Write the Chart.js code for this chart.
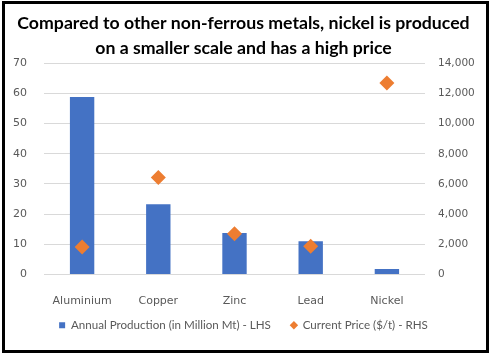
<!DOCTYPE html>
<html><head><meta charset="utf-8">
<script src="https://cdn.jsdelivr.net/npm/chart.js@4"></script>
<style>html,body{margin:0;padding:0;background:#fff}#wrap{width:491px;height:355px;position:relative}</style>
</head><body><div id="wrap"><canvas id="c" width="491" height="355"></canvas></div>
<script>
const categories = ["Aluminium", "Copper", "Zinc", "Lead", "Nickel"];
const production = [58.8, 23.3, 13.7, 11.0, 1.8];
const price = [1810, 6420, 2700, 1860, 12700];
const titleLines = ["Compared to other non-ferrous metals, nickel is produced", "on a smaller scale and has a high price"];
const seriesNames = ["Annual Production (in Million Mt) - LHS", "Current Price ($/t) - RHS"];

const borderPlugin = {
  id: 'frame',
  afterDraw(chart) {
    const ctx = chart.ctx;
    ctx.save();
    ctx.strokeStyle = '#000';
    ctx.lineWidth = 3;
    ctx.strokeRect(3.5, 2.5, 484, 349);
    ctx.restore();
  }
};

new Chart(document.getElementById('c'), {
  type: 'bar',
  data: {
    labels: categories,
    datasets: [
      { label: seriesNames[0], data: production, backgroundColor: '#4472C4', yAxisID: 'y', order: 2,
        barPercentage: 0.64, categoryPercentage: 0.5, pointStyle: 'rect' },
      { label: seriesNames[1], data: price, type: 'line', showLine: false, yAxisID: 'y1', order: 1,
        pointStyle: 'rectRot', pointRadius: 7.5, pointHoverRadius: 7.5, backgroundColor: '#ED7D31', borderColor: '#ED7D31', borderWidth: 0 }
    ]
  },
  plugins: [borderPlugin],
  options: {
    responsive: false,
    animation: false,
    events: [],
    layout: { padding: { left: 4, right: 8, top: 6, bottom: 14 } },
    plugins: {
      title: { display: true, text: titleLines, color: '#000', font: { family: 'Lato', size: 17.7, weight: 'bold', lineHeight: 1.45 }, padding: { top: 4, bottom: 2 } },
      legend: { position: 'bottom',
        labels: { usePointStyle: true, boxWidth: 6, boxHeight: 6, color: '#595959', padding: 20,
          font: { family: 'Lato', size: 11.6 },
          sort: (a, b) => a.datasetIndex - b.datasetIndex } },
      tooltip: { enabled: false }
    },
    scales: {
      x: { grid: { display: false }, border: { display: false },
        ticks: { color: '#595959', font: { family: 'DejaVu Sans', size: 11 }, padding: 12 },
        afterFit(s) { s.height = 25; s._computeLabelArea = () => undefined; } },
      y: { position: 'left', min: 0, max: 70, grid: { color: '#d9d9d9', drawTicks: false }, border: { display: false },
        ticks: { stepSize: 10, autoSkip: false, color: '#595959', font: { family: 'DejaVu Sans', size: 11 }, padding: 17 },
        afterFit(s) { s.width = 40; } },
      y1: { position: 'right', min: 0, max: 14000, grid: { display: false, drawTicks: false }, border: { display: false },
        ticks: { stepSize: 2000, autoSkip: false, color: '#595959', font: { family: 'DejaVu Sans', size: 10.5 }, padding: 13,
          callback: v => v.toLocaleString('en-US') },
        afterFit(s) { s.width = 58; } }
    }
  }
});
</script></body></html>
